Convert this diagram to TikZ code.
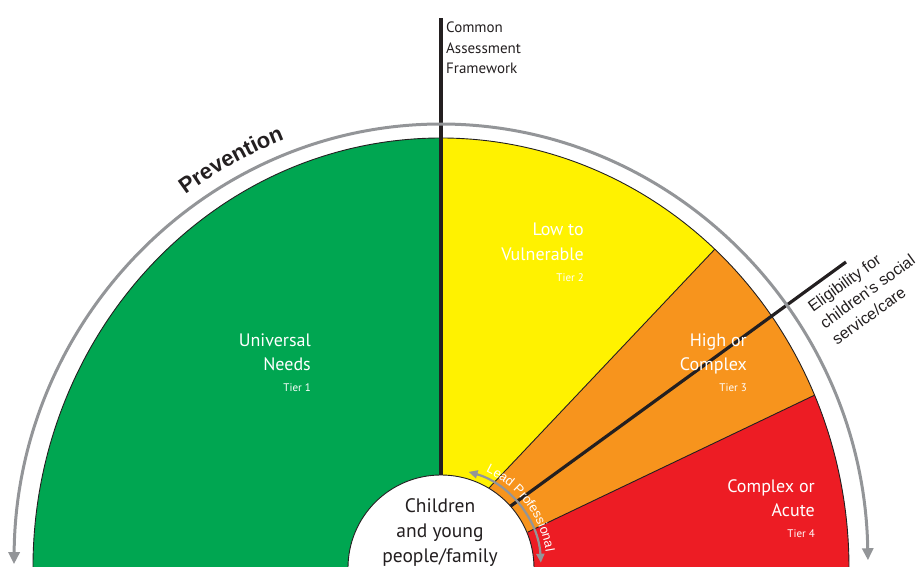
\documentclass[tikz,border=0pt]{standalone}
\usepackage{fontspec}
\setmainfont{PT Sans}
\newfontfamily\arial{Liberation Sans}
\usetikzlibrary{arrows.meta,decorations.text}

\definecolor{tgreen}{RGB}{0,166,81}
\definecolor{tyellow}{RGB}{255,242,0}
\definecolor{torange}{RGB}{247,148,29}
\definecolor{tred}{RGB}{237,28,36}
\definecolor{tgray}{RGB}{147,149,152}
\definecolor{tdark}{RGB}{35,31,32}

\newcommand\tiersz{\fontsize{11}{13}\selectfont}

\begin{document}
\begin{tikzpicture}[x=1pt,y=1pt,
	edgeline/.style={draw=tdark,line width=0.9pt},
	bar/.style={draw=tdark,line width=3.2pt},
	tier/.style={text=white,align=right,anchor=east,inner sep=0,font=\fontsize{18}{24.5}\selectfont},
	bigarrow/.style={draw=tgray,line width=3pt,{Triangle[width=11pt,length=12pt]}-{Triangle[width=11pt,length=12pt]}},
	smallarrow/.style={draw=tgray,line width=2.2pt,{Triangle[width=8pt,length=9pt]}-{Triangle[width=8pt,length=9pt]}}]
	
	\clip (-441,1) rectangle (477,568);
	
	\coordinate (o) at (0,0);
	\coordinate (top) at (90:408 and 430);
	\coordinate (yo) at (47.85:408 and 430);
	\coordinate (or) at (23.7:408 and 430);
	\coordinate (yoin) at (48,80);
	\coordinate (orin) at (87,36);
	\coordinate (elin) at (67,60);
	\coordinate (elout) at (405,306);
	\coordinate (cafin) at (0,60);
	\coordinate (cafout) at (0,550);
	
	% sectors
	\fill[tgreen] (o) -- (top) arc[start angle=90,end angle=184,x radius=408,y radius=430] -- cycle;
	\fill[tyellow] (o) -- (yoin) -- (yo) arc[start angle=47.85,end angle=90,x radius=408,y radius=430] -- cycle;
	\fill[torange] (o) -- (orin) -- (or) arc[start angle=23.7,end angle=47.85,x radius=408,y radius=430] -- (yoin) -- cycle;
	\fill[tred] (o) -- (-4:408 and 430) arc[start angle=-4,end angle=23.7,x radius=408,y radius=430] -- (orin) -- cycle;
	
	\draw[edgeline] (184:408 and 430) arc[start angle=184,end angle=-4,x radius=408,y radius=430];
	\draw[edgeline] (yoin) -- (yo)
		(orin) -- (or);
	
	\draw[bar] (cafin) -- (cafout);
	\draw[bar] (elin) -- (elout);
	
	\draw[edgeline,fill=white] (o) circle[radius=93];
	
	% arrows
	\draw[bigarrow] (179.5:427 and 444) arc[start angle=179.5,end angle=1,x radius=427,y radius=444];
	\draw[smallarrow] (74:100) arc[start angle=74,end angle=3,radius=100];
	\path[decorate,decoration={text along path,text color=white,text align=left,
		text={|\arial\fontsize{13}{13}\selectfont|Lead Professional}}]
		(65:106) arc[start angle=65,end angle=0,radius=106];
	\path[decorate,decoration={text along path,text color=tdark,text align=center,
		text={|\arial\bfseries\fontsize{22}{22}\selectfont|Prevention}}]
		(138:441 and 458) arc[start angle=138,end angle=98,x radius=441,y radius=458];
	
	% labels
	\node[tier] (t1) at (-130,205.5) {Universal\\Needs\\[-3.5pt]\tiersz Tier 1};
	\node[tier] (t2) at (143,315.5) {Low to\\Vulnerable\\[-3.5pt]\tiersz Tier 2};
	\node[tier] (t3) at (306,205.5) {High or\\Complex\\[-3.5pt]\tiersz Tier 3};
	\node[tier] (t4) at (374,59.5) {Complex or\\Acute\\[-3.5pt]\tiersz Tier 4};
	
	\node[align=center,text=tdark,font=\fontsize{19.5}{25}\selectfont] (kids) at (-1,35) {Children\\and young\\people/family};
	
	\node[anchor=north west,align=left,inner sep=0,text=tdark,font=\fontsize{15}{20.5}\selectfont] (caf) at (5,546) {Common\\Assessment\\Framework};
	
	\node[anchor=north west,align=left,inner sep=0,rotate=36,text=tdark,font=\arial\fontsize{16}{20.5}\selectfont] (elig) at (365,265) {Eligibility for\\children’s social\\service/care};
	
\end{tikzpicture}
\end{document}
